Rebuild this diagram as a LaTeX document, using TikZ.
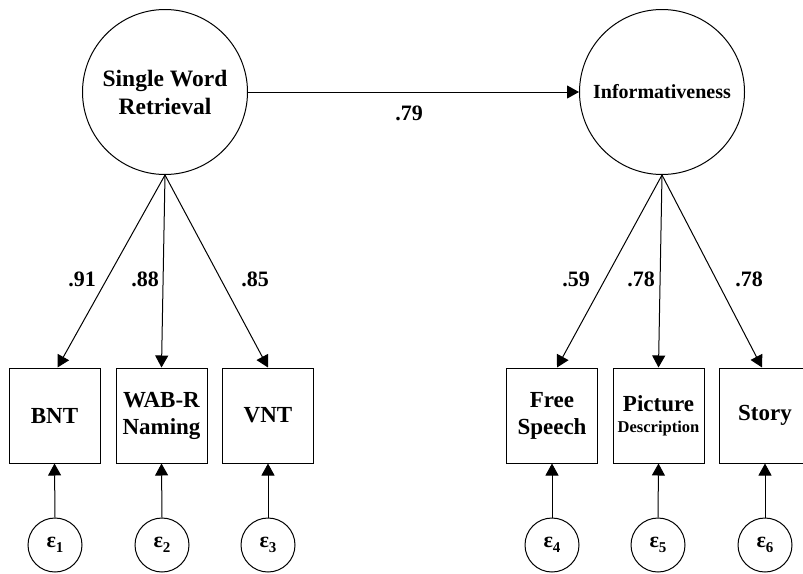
\documentclass[tikz,border=0pt]{standalone}
\usepackage{fontspec}
\setmainfont{Liberation Serif}
\usetikzlibrary{arrows.meta}
\begin{document}
\begin{tikzpicture}[x=1pt,y=-1pt,
  lat/.style={circle,draw,line width=1pt,minimum size=165pt,inner sep=0pt,align=center},
  obs/.style={rectangle,draw,line width=1pt,minimum width=91pt,minimum height=95pt,inner sep=0pt,align=center,font=\bfseries\fontsize{23}{27}\selectfont},
  err/.style={circle,draw,line width=1pt,minimum size=54pt,inner sep=0pt,font=\bfseries\fontsize{22}{24}\selectfont},
  conn/.style={line width=1pt,-{Triangle[length=12pt,width=13pt]}},
  lbl/.style={font=\bfseries\fontsize{22}{24}\selectfont}]
\useasboundingbox (0,0) rectangle (803,573);
\clip (0,0) rectangle (803,573);
% latent variables
\node[lat,font=\bfseries\fontsize{23.5}{28}\selectfont] (swr) at (165,92) {Single Word\\Retrieval};
\node[lat,font=\bfseries\fontsize{20}{24}\selectfont] (inf) at (662,92) {Informativeness};
% observed
\node[obs] (bnt) at (54.5,415.5) {BNT};
\node[obs] (wab) at (161.5,415.5) {WAB-R\\Naming};
\node[obs] (vnt) at (268,415.5) {VNT};
\node[obs] (fs) at (552,415.5) {Free\\Speech};
\node[obs] (pd) at (658.5,415.5) {Picture\\[-6pt]{\fontsize{16.5}{18}\selectfont Description}};
\node[obs] (st) at (765,415.5) {Story};
% errors
\newcommand{\epsi}[1]{ε\raisebox{-0.45ex}{\fontsize{15}{15}\selectfont #1}}
\node[err] (e1) at (55,545) {\epsi{1}};
\node[err] (e2) at (162,545) {\epsi{2}};
\node[err] (e3) at (268,545) {\epsi{3}};
\node[err] (e4) at (552,545) {\epsi{4}};
\node[err] (e5) at (658,545) {\epsi{5}};
\node[err] (e6) at (765,545) {\epsi{6}};
% structural path
\draw[conn] (swr.east) -- (inf.west);
\node[lbl] (l79) at (409,113) {.79};
% loadings
\draw[conn] (swr.south) -- ([xshift=3pt]bnt.north);
\draw[conn] (swr.south) -- (wab.north);
\draw[conn] (swr.south) -- (vnt.north);
\draw[conn] (inf.south) -- ([xshift=5pt]fs.north);
\draw[conn] (inf.south) -- (pd.north);
\draw[conn] (inf.south) -- ([xshift=-3pt]st.north);
\node[lbl] (l91) at (82,279) {.91};
\node[lbl] (l88) at (145,279) {.88};
\node[lbl] (l85) at (255,279) {.85};
\node[lbl] (l59) at (576,279) {.59};
\node[lbl] (l78a) at (641,279) {.78};
\node[lbl] (l78b) at (749,279) {.78};
% errors to indicators
\draw[conn] (e1.north) -- (bnt.south);
\draw[conn] (e2.north) -- (wab.south);
\draw[conn] (e3.north) -- (vnt.south);
\draw[conn] (e4.north) -- (fs.south);
\draw[conn] (e5.north) -- (pd.south);
\draw[conn] (e6.north) -- (st.south);
\end{tikzpicture}
\end{document}
